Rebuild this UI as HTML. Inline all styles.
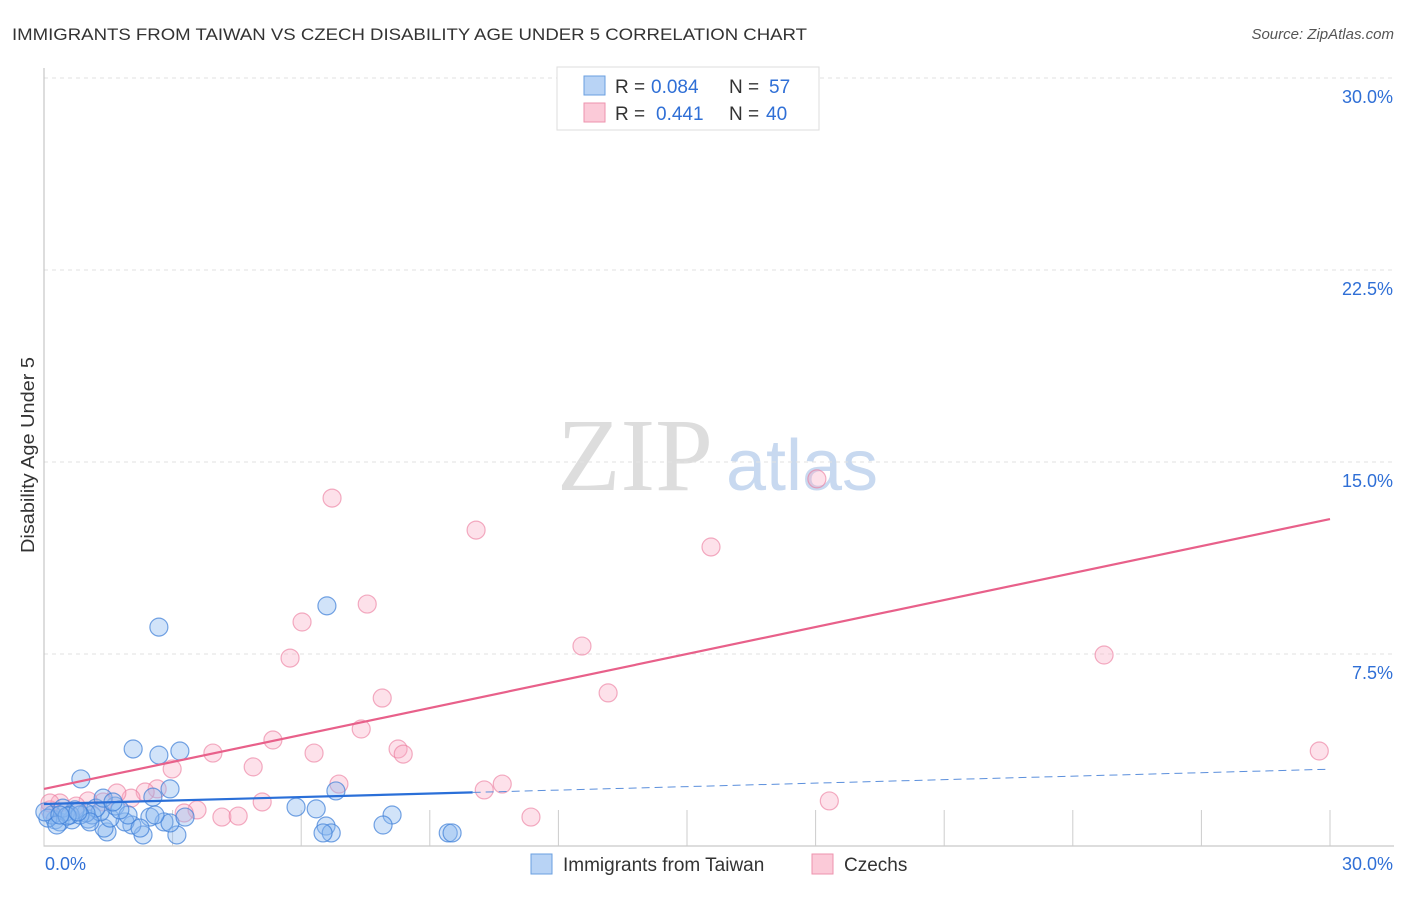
<!DOCTYPE html>
<html><head><meta charset="utf-8"><style>
body{margin:0;background:#fff;font-family:"Liberation Sans",sans-serif}
svg text{font-family:"Liberation Sans",sans-serif}
</style></head><body>
<svg width="1406" height="892" xmlns="http://www.w3.org/2000/svg">
<text x="12" y="40" font-size="17" fill="#333" textLength="795" lengthAdjust="spacingAndGlyphs">IMMIGRANTS FROM TAIWAN VS CZECH DISABILITY AGE UNDER 5 CORRELATION CHART</text>
<text x="1394" y="39" font-size="15" fill="#555" text-anchor="end" font-style="italic">Source: ZipAtlas.com</text>
<text transform="translate(34,455) rotate(-90)" font-size="18" fill="#333" text-anchor="middle" textLength="196" lengthAdjust="spacingAndGlyphs">Disability Age Under 5</text>
<g id="watermark">
<text x="635" y="490" font-size="104" fill="#ddd" text-anchor="middle" style="font-family:'Liberation Serif',serif">ZIP</text>
<text x="802" y="490" font-size="72" fill="#c8d9f0" text-anchor="middle">atlas</text>
</g>
<g id="grid"></g><g id="axes"></g><g id="marks"></g>
<g>
<rect x="557" y="67" width="262" height="63" fill="#fff" stroke="#ddd"/>
<rect x="584" y="76" width="21" height="19" fill="#b8d3f5" stroke="#6a9fe0"/>
<rect x="584" y="103" width="21" height="19" fill="#fbcad8" stroke="#ee93ae"/>
<text x="615" y="93" font-size="19" fill="#333">R =</text>
<text x="651" y="93" font-size="19" fill="#2f6fd6">0.084</text>
<text x="729" y="93" font-size="19" fill="#333">N =</text>
<text x="769" y="93" font-size="19" fill="#2f6fd6">57</text>
<text x="615" y="120" font-size="19" fill="#333">R =</text>
<text x="656" y="120" font-size="19" fill="#2f6fd6">0.441</text>
<text x="729" y="120" font-size="19" fill="#333">N =</text>
<text x="766" y="120" font-size="19" fill="#2f6fd6">40</text>
</g>
<g>
<rect x="531" y="854" width="21" height="20" fill="#b8d3f5" stroke="#6a9fe0"/>
<text x="563" y="871" font-size="19" fill="#333">Immigrants from Taiwan</text>
<rect x="812" y="854" width="21" height="20" fill="#fbcad8" stroke="#ee93ae"/>
<text x="844" y="871" font-size="19" fill="#333">Czechs</text>
</g>
</svg>
<script>
const yTicks=[7.5,15,22.5,30];
const yTickLabels=["7.5%","15.0%","22.5%","30.0%"];
const xTickVals=[0,3,6,9,12,15,18,21,24,27,30];
const taiwanX=[0.86,2.08,2.68,3.17,2.68,6.60,2.54,2.94,6.81,5.88,6.35,8.12,7.91,6.58,6.70,6.51,9.43,9.52,3.10,2.31,1.47,1.40,2.05,1.89,2.80,2.94,0.26,0.37,0.65,1.03,1.12,1.54,1.66,1.31,1.21,0.98,0.72,0.51,0.19,0.09,0.44,0.61,1.96,2.47,2.59,3.29,1.38,1.77,1.61,2.24,0.30,0.84,0.02,0.54,1.07,0.79,0.37];
const taiwanY=[2.62,3.79,3.55,3.71,8.55,9.38,1.91,2.23,2.15,1.52,1.45,1.21,0.82,0.78,0.51,0.51,0.51,0.51,0.43,0.43,0.55,0.70,0.82,0.94,0.94,0.90,1.02,0.94,1.02,1.05,1.21,1.09,1.56,1.33,1.48,1.29,1.41,1.33,1.21,1.09,1.48,1.21,1.21,1.13,1.21,1.13,1.87,1.41,1.72,0.70,0.82,1.21,1.33,1.17,0.94,1.33,1.21];
const czechX=[6.72,10.08,15.56,18.03,7.54,6.02,5.74,12.55,24.73,13.16,7.89,7.40,5.34,3.94,6.30,8.26,8.38,2.99,4.88,29.75,10.69,10.27,6.88,2.64,2.36,5.09,18.32,3.57,3.27,2.03,1.70,1.38,1.03,0.75,0.37,0.14,4.15,4.53,11.36,0.14];
const czechY=[13.59,12.34,11.68,14.34,9.45,8.75,7.34,7.81,7.46,5.98,5.78,4.57,4.14,3.63,3.63,3.79,3.59,3.01,3.09,3.71,2.42,2.19,2.42,2.23,2.11,1.72,1.76,1.41,1.29,1.87,2.07,1.72,1.76,1.56,1.68,1.41,1.13,1.17,1.13,1.68];
const taiwanTrend=[1.64,3.0];
const taiwanSolidEnd=10;
const czechTrend=[2.23,12.77];

const X0=44,X1=1330,Y0=846,Y30=78;
const sx=v=>X0+(X1-X0)*v/30;
const sy=v=>Y0-(Y0-Y30)*v/30;
const NS="http://www.w3.org/2000/svg";
function mk(tag,attrs,parent){const e=document.createElementNS(NS,tag);for(const k in attrs)e.setAttribute(k,attrs[k]);parent.appendChild(e);return e;}
const grid=document.getElementById('grid'),axes=document.getElementById('axes'),marks=document.getElementById('marks');
yTicks.forEach((t,i)=>{
  const l=mk('line',{x1:X0,x2:1394,y1:sy(t),y2:sy(t),stroke:'#e2e2e2','stroke-dasharray':'4,4'},grid);
  
  
  const tx=mk('text',{x:1393,y:sy(t)+25,'font-size':18,fill:'#2f6fd6','text-anchor':'end'},axes);
  tx.textContent=yTickLabels[i];
  
  
});
const ax=mk('path',{d:`M${X0} 68V${Y0}H1394`,stroke:'#bbb',fill:'none'},axes);


xTickVals.forEach(t=>{
  const l=mk('line',{x1:sx(t),x2:sx(t),y1:Y0-36,y2:Y0,stroke:'#ccc'},axes);
  
  
});
const xl=mk('text',{x:45,y:870,'font-size':18,fill:'#2f6fd6'},axes);xl.textContent='0.0%';


const xr=mk('text',{x:1393,y:870,'font-size':18,fill:'#2f6fd6','text-anchor':'end'},axes);xr.textContent='30.0%';



czechX.forEach((x,i)=>{
  const c=mk('circle',{cx:sx(x),cy:sy(czechY[i]),r:9,fill:'rgba(248,170,195,0.35)',stroke:'rgba(235,120,155,0.6)','stroke-width':1.2},marks);
  
  
});
taiwanX.forEach((x,i)=>{
  const c=mk('circle',{cx:sx(x),cy:sy(taiwanY[i]),r:9,fill:'rgba(140,185,240,0.4)',stroke:'rgba(60,125,215,0.7)','stroke-width':1.2},marks);
  
  
});
const ct=mk('line',{x1:sx(0),y1:sy(czechTrend[0]),x2:sx(30),y2:sy(czechTrend[1]),stroke:'#e8608a','stroke-width':2.2},marks);


const tAt=x=>taiwanTrend[0]+(taiwanTrend[1]-taiwanTrend[0])*x/30;
const ts=mk('line',{x1:sx(0),y1:sy(tAt(0)),x2:sx(taiwanSolidEnd),y2:sy(tAt(taiwanSolidEnd)),stroke:'#2a6fd8','stroke-width':2.2},marks);


const td=mk('line',{x1:sx(taiwanSolidEnd),y1:sy(tAt(taiwanSolidEnd)),x2:sx(30),y2:sy(tAt(30)),stroke:'#5b8fdc','stroke-width':1,'stroke-dasharray':'8,5'},marks);


</script>
</body></html>
